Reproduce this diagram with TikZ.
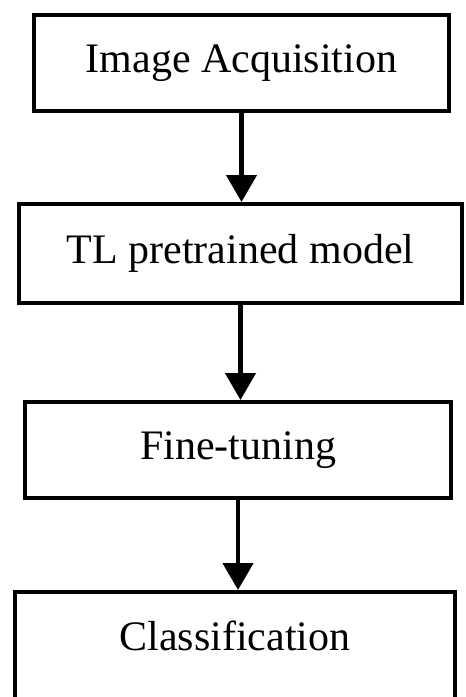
\documentclass[tikz,border=0pt]{standalone}
\usepackage{fontspec}
\setmainfont{Liberation Serif}
\usetikzlibrary{%
  arrows.meta,%
  positioning% wg. " of "
}

\begin{document}
\begin{tikzpicture}
[x=1pt, y=-1pt, font=\fontsize{42}{50}\selectfont, draw=black, line width=4pt,
stage/.style={rectangle, draw, inner sep=0pt},
flow/.style={-{Triangle[width=30pt,length=27pt]}, line width=4.5pt}
]
\clip (0,0) rectangle (466,697);

\node[stage, minimum width=415pt, minimum height=96pt] (acq) at (241.5,63) {Image Acquisition};
\node[stage, minimum width=443pt, minimum height=99pt] (pre) at (240.5,253.5) {TL pretrained model};
\node[stage, minimum width=426pt, minimum height=96pt] (fine) at (238,450) {Fine-tuning};
% last box runs off the bottom edge
\node[stage, anchor=north, minimum width=440pt, text height=58pt, text depth=90pt] (cls) at (235,590) {Classification};

\draw[flow] (acq.south) -- (acq.south |- pre.north);
\draw[flow] (pre.south) -- (pre.south |- fine.north);
\draw[flow] (fine.south) -- (fine.south |- cls.north);
\end{tikzpicture}
\end{document}
